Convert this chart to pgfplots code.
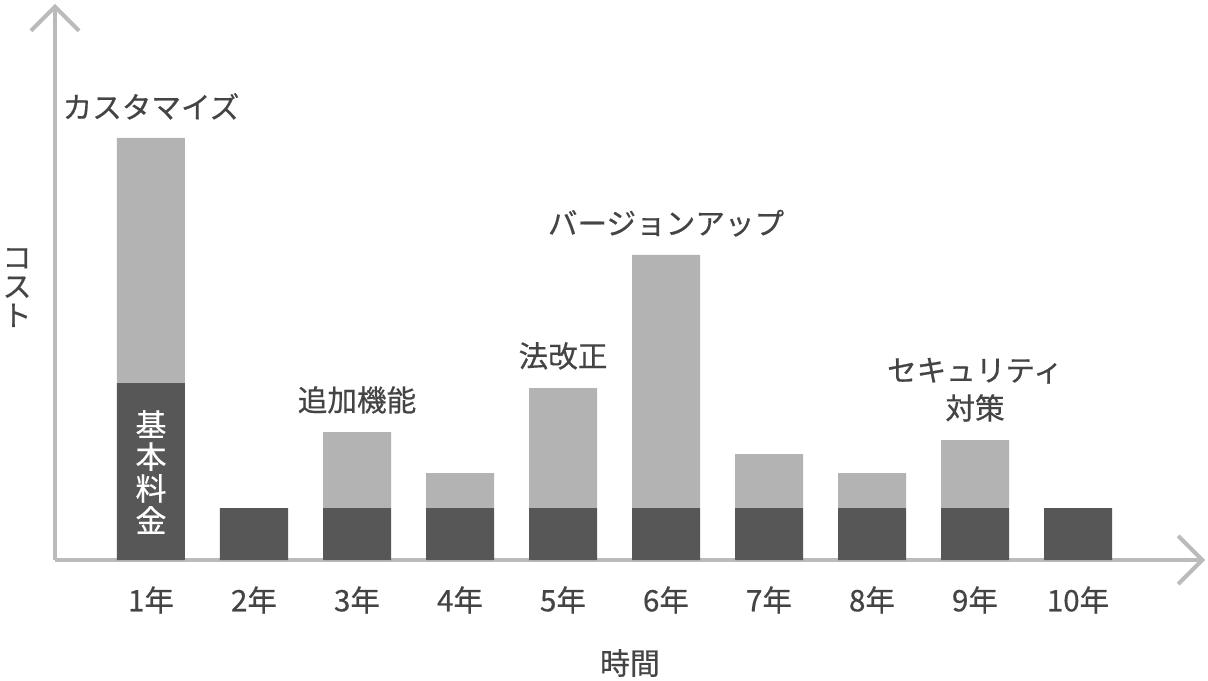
\documentclass[border=0pt]{standalone}
\usepackage{pgfplots}
\pgfplotsset{compat=1.18}
\usepackage{fontspec}
\setmainfont{Noto Sans CJK JP}[BoldFont=Noto Sans CJK JP, BoldFeatures={FakeBold=0.5}]
\usetikzlibrary{arrows.meta}

\definecolor{basecol}{HTML}{575757}
\definecolor{addcol}{HTML}{B3B3B3}
\definecolor{axiscol}{HTML}{BBBBBB}
\definecolor{txtcol}{HTML}{444444}

\begin{document}
\begin{tikzpicture}[x=1pt,y=1pt]
\path[use as bounding box] (-27.5,-60) rectangle (576.5,280);
\begin{axis}[
  at={(0,0)}, anchor=south west,
  scale only axis, width=575pt, height=278pt,
  xmin=0.068, xmax=11.233, ymin=0, ymax=556,
  axis lines=left,
  axis line style={draw=axiscol, line width=2pt, -{Straight Barb[length=12pt,width=24pt]}},
  ybar stacked, bar width=34pt,
  xtick={1,...,10},
  xticklabels={1年,2年,3年,4年,5年,6年,7年,8年,9年,10年},
  ytick=\empty, major tick length=0pt,
  xticklabel style={font=\bfseries\fontsize{14.8}{17}\selectfont, text=txtcol, anchor=center, yshift=-20pt},
  xlabel={時間},
  every axis x label/.style={at={(axis description cs:0.5,0)}, anchor=center, yshift=-51.5pt,
    font=\bfseries\fontsize{15}{17}\selectfont, text=txtcol},
  ylabel={コ\\ス\\ト},
  every axis y label/.style={at={(axis description cs:0,0.49)}, anchor=center, xshift=-19pt,
    align=center, font=\bfseries\fontsize{14.5}{14.5}\selectfont, text=txtcol},
  clip=false,
]
% 基本料金
\addplot[fill=basecol, draw=none] coordinates {
  (1,177) (2,52) (3,52) (4,52) (5,52) (6,52) (7,52) (8,52) (9,52) (10,52)};
% 追加コスト
\addplot[fill=addcol, draw=none] coordinates {
  (1,245) (2,0) (3,76) (4,35) (5,120) (6,253) (7,54) (8,35) (9,68) (10,0)};
% label anchors (tops of the stacks)
\coordinate (t1) at (axis cs:1,422);
\coordinate (t3) at (axis cs:3,128);
\coordinate (t5) at (axis cs:5,172);
\coordinate (t6) at (axis cs:6,305);
\coordinate (t9) at (axis cs:9,120);
\coordinate (b1) at (axis cs:1,88);
\end{axis}
\begin{scope}[every node/.style={anchor=south, inner sep=0pt, yshift=9pt, align=center,
    font=\bfseries\fontsize{14.8}{19}\selectfont, text=txtcol}]
\node at (t1) {カスタマイズ};
\node at (t3) {追加機能};
\node at (t5) {法改正};
\node at (t6) {バージョンアップ};
\node at (t9) {セキュリティ\\対策};
\end{scope}
\node[text=white, align=center, inner sep=0pt, font=\bfseries\fontsize{15.5}{16}\selectfont] at (b1) {基\\本\\料\\金};
\end{tikzpicture}
\end{document}
